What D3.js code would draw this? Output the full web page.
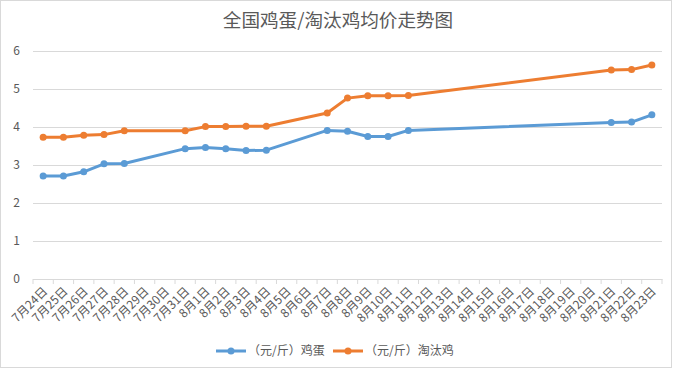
<!DOCTYPE html>
<html>
<head>
<meta charset="utf-8">
<script src="https://cdn.jsdelivr.net/npm/d3@7"></script>
<style>
	body { margin: 0; background: white; }
	text { font-family: "Noto Sans CJK SC", "Microsoft YaHei", sans-serif; fill: #595959; }
</style>
</head>
<body>
<div id="chart"></div>
<script>
var dates = [
	'7月24日', '7月25日', '7月26日', '7月27日', '7月28日', '7月29日', '7月30日', '7月31日',
	'8月1日', '8月2日', '8月3日', '8月4日', '8月5日', '8月6日', '8月7日', '8月8日',
	'8月9日', '8月10日', '8月11日', '8月12日', '8月13日', '8月14日', '8月15日', '8月16日',
	'8月17日', '8月18日', '8月19日', '8月20日', '8月21日', '8月22日', '8月23日'
];
var egg = [
	2.71, 2.71, 2.82, 3.03, 3.04, null, null, 3.43,
	3.46, 3.43, 3.38, 3.39, null, null, 3.91, 3.89,
	3.75, 3.75, 3.91, null, null, null, null, null,
	null, null, null, null, 4.12, 4.13, 4.32
];
var hen = [
	3.73, 3.73, 3.78, 3.80, 3.90, null, null, 3.90,
	4.01, 4.01, 4.02, 4.02, null, null, 4.37, 4.76,
	4.82, 4.82, 4.83, null, null, null, null, null,
	null, null, null, null, 5.50, 5.51, 5.63
];
var series_names = ['（元/斤）鸡蛋', '（元/斤）淘汰鸡'];
var y_ticks = [0, 1, 2, 3, 4, 5, 6];

var width = 677, height = 370;
var margin = {top: 51, right: 15, bottom: 91, left: 33};

var svg = d3.select('#chart')
	.append('svg')
		.attr('width', width)
		.attr('height', height);

// chart border
svg.append('rect')
	.attr('x', 0.5)
	.attr('y', 0.5)
	.attr('width', 671)
	.attr('height', 367)
	.style('fill', 'white')
	.style('stroke', '#d9d9d9');

// title
svg.append('text')
	.attr('text-anchor', 'middle')
	.attr('x', 338)
	.attr('y', 27)
	.text('全国鸡蛋/淘汰鸡均价走势图')
	.style('font-size', '18.6px');

var x = d3.scaleBand()
	.domain(dates)
	.range([margin.left, width - margin.right])
	.padding(0);

var y = d3.scaleLinear()
	.domain([0, 6])
	.range([height - margin.bottom, margin.top]);

// grid + y labels
var y_axis = svg.append('g')
	.attr('transform', 'translate(' + margin.left + ',0)')
	.call(d3.axisLeft(y)
		.tickValues(y_ticks)
		.tickFormat(d3.format('d'))
		.tickSize(-(width - margin.left - margin.right))
		.tickPadding(13));
y_axis.select('.domain').remove();
y_axis.selectAll('.tick line')
	.style('stroke', '#d9d9d9');
y_axis.selectAll('.tick text')
	.style('font-size', '12px')
	.style('fill', '#595959');

// x axis
var x_axis = svg.append('g')
	.attr('transform', 'translate(0,' + y(0) + ')')
	.call(d3.axisBottom(x).tickSize(0).tickSizeOuter(0));
x_axis.select('.domain')
	.style('stroke', '#d9d9d9');
x_axis.selectAll('.tick text')
	.attr('text-anchor', 'end')
	.attr('dy', null)
	.attr('y', 0)
	.attr('transform', 'translate(5,13) rotate(-45)')
	.style('font-size', '12px')
	.style('fill', '#595959');

// tick marks between categories
svg.append('g')
	.selectAll('line')
	.data(dates.concat(['end']))
	.enter()
	.append('line')
		.attr('x1', function(d) { return d == 'end' ? x.range()[1] : x(d); })
		.attr('x2', function(d) { return d == 'end' ? x.range()[1] : x(d); })
		.attr('y1', y(0))
		.attr('y2', y(0) + 5)
		.style('stroke', '#d9d9d9');

var colors = ['#5b9bd5', '#ed7d31'];
var all_series = [egg, hen];

var line = d3.line()
	.x(function(d) { return x(d.date) + x.bandwidth() / 2; })
	.y(function(d) { return y(d.value); });

all_series.forEach(function(values, k) {
	var pts = dates.map(function(d, i) { return {date: d, value: values[i]}; })
		.filter(function(d) { return d.value != null; });

	svg.append('path')
		.datum(pts)
		.attr('d', line)
		.style('fill', 'none')
		.style('stroke', colors[k])
		.style('stroke-width', 3)
		.style('stroke-linejoin', 'round')
		.style('stroke-linecap', 'round');

	svg.append('g')
		.selectAll('circle')
		.data(pts)
		.enter()
		.append('circle')
			.attr('cx', function(d) { return x(d.date) + x.bandwidth() / 2; })
			.attr('cy', function(d) { return y(d.value); })
			.attr('r', 3.5)
			.style('fill', colors[k]);
});

// legend
var legend_x = [216, 333];
var legend = svg.selectAll('.legend')
	.data(series_names)
	.enter()
	.append('g')
		.attr('class', 'legend')
		.attr('transform', function(d, i) { return 'translate(' + legend_x[i] + ',351)'; });
legend.append('line')
	.attr('x1', 0)
	.attr('x2', 30)
	.style('stroke', function(d, i) { return colors[i]; })
	.style('stroke-width', 3);
legend.append('circle')
	.attr('cx', 15)
	.attr('r', 3.5)
	.style('fill', function(d, i) { return colors[i]; });
legend.append('text')
	.attr('x', 32)
	.attr('y', 4)
	.text(function(d) { return d; })
	.style('font-size', '12px');
</script>
</body>
</html>
